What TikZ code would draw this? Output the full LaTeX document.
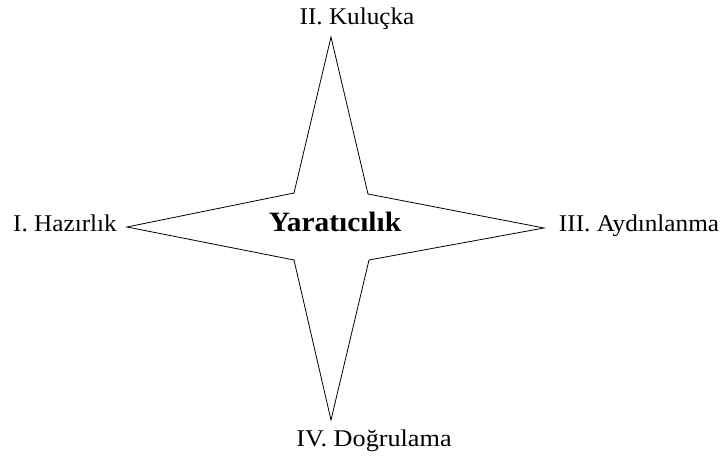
\documentclass[tikz,border=0pt]{standalone}
\usepackage{fontspec}
\setmainfont{Liberation Serif}
\usepackage{tikz}

\tikzset{
    phase/.style={anchor=base, inner sep=0pt, xscale=1.05, font=\fontsize{24}{27}\selectfont},
    core/.style={anchor=base, inner sep=0pt, xscale=1.05, font=\fontsize{28}{31}\selectfont\bfseries}
}

\begin{document}
\begin{tikzpicture}[x=1pt, y=-1pt]
    \useasboundingbox (0,0) rectangle (724,457);

    \coordinate (N) at (331,37);
    \coordinate (S) at (331,420);
    \coordinate (W) at (127,227);
    \coordinate (E) at (544,228);
    \coordinate (NW) at (294,193);
    \coordinate (NE) at (368,194);
    \coordinate (SE) at (369,260);
    \coordinate (SW) at (294,260);

    \draw[line width=0.8pt, line join=miter]
        (N) -- (NE) -- (E) -- (SE) -- (S) -- (SW) -- (W) -- (NW) -- cycle;

    \node[core] (yar) at (335,232) {Yaratıcılık};

    \node[phase] (haz) at (65,232) {I. Hazırlık};
    \node[phase] (kul) at (357,25) {II. Kuluçka};
    \node[phase] (ayd) at (639,232) {III. Aydınlanma};
    \node[phase, xscale=1.04] (dog) at (374,447) {IV. Doğrulama};
\end{tikzpicture}
\end{document}
